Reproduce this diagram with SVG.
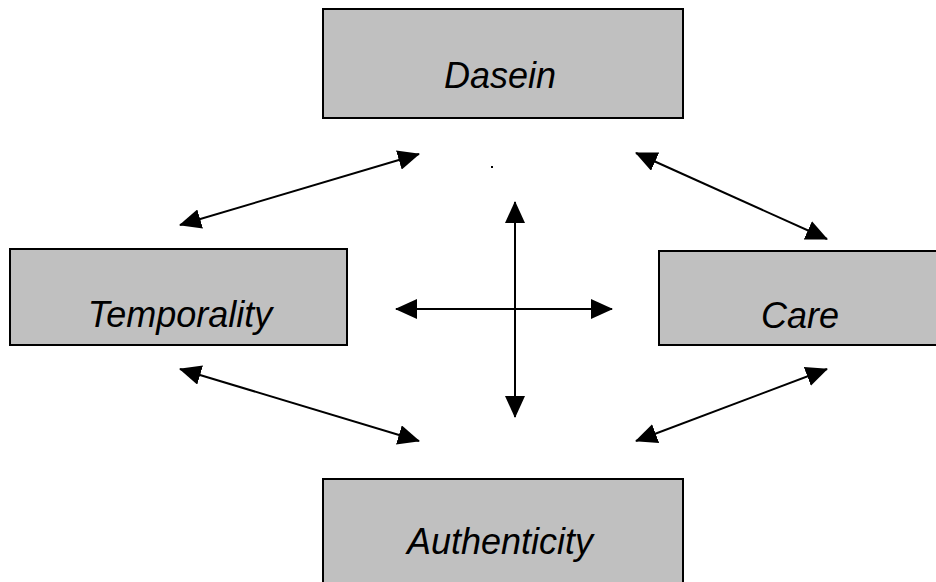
<svg xmlns="http://www.w3.org/2000/svg" width="936" height="582" viewBox="0 0 936 582">
<style>
.box{fill:#c0c0c0;stroke:#000;stroke-width:2}
.lbl{font-family:"Liberation Sans",Arial,sans-serif;font-style:italic;font-size:36px;fill:#000;text-anchor:middle}
.conn line{stroke:#000;stroke-width:2;marker-start:url(#ah);marker-end:url(#ah)}
</style>
<defs>
<marker id="ah" markerUnits="userSpaceOnUse" markerWidth="22" markerHeight="20" refX="21" refY="10" orient="auto-start-reverse" viewBox="0 0 22 20">
<path d="M0,0 L22,10 L0,20 z" fill="#000"/>
</marker>
</defs>
<rect width="936" height="582" fill="#fff"/>
<g id="dasein"><rect class="box" x="323" y="9" width="360" height="109"/><text class="lbl" x="500" y="88">Dasein</text></g>
<g id="temporality"><rect class="box" x="10" y="249" width="337" height="96"/><text class="lbl" x="180" y="327">Temporality</text></g>
<g id="care"><rect class="box" x="659" y="251" width="290" height="94"/><text class="lbl" x="800" y="328">Care</text></g>
<g id="authenticity"><rect class="box" x="323" y="479" width="360" height="120"/><text class="lbl" x="500" y="554">Authenticity</text></g>
<g id="connectors" class="conn">
<line x1="180" y1="225" x2="419" y2="154"/>
<line x1="636" y1="153" x2="827" y2="239"/>
<line x1="180" y1="369" x2="419" y2="441"/>
<line x1="636" y1="441" x2="827" y2="369"/>
<line x1="515" y1="202" x2="515" y2="417"/>
<line x1="396" y1="309" x2="612" y2="309"/>
</g>
<rect x="491" y="166" width="2" height="2" fill="#000"/>
</svg>
